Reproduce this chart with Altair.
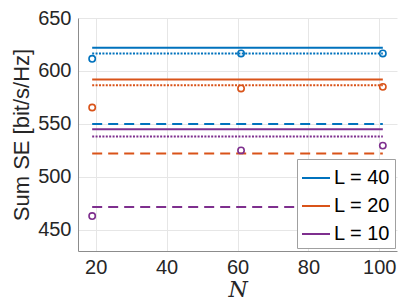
import altair as alt
import pandas as pd

# ---- data ----
L_labels = ["L = 40", "L = 20", "L = 10"]
colors = ["#0072BD", "#D95319", "#7E2F8E"]
N_start = 19
N_end = 101
solid_vals = [622.0, 592.0, 545.0]
dotted_vals = [616.5, 586.5, 538.0]
dashed_vals = [550.0, 522.0, 471.5]
N_points = [19, 61, 101]
circle_vals = {
    "L = 40": [611.5, 616.5, 616.5],
    "L = 20": [565.5, 583.5, 585.0],
    "L = 10": [463.0, 525.0, 529.5],
}
x_ticks = [20, 40, 60, 80, 100]
y_ticks = [450, 500, 550, 600, 650]

lines_df = pd.DataFrame({
    "L": L_labels,
    "x0": [N_start] * 3,
    "x1": [N_end] * 3,
    "solid": solid_vals,
    "dotted": dotted_vals,
    "dashed": dashed_vals,
})
pts_df = pd.DataFrame(
    [{"L": L, "N": n, "SE": v} for L in L_labels for n, v in zip(N_points, circle_vals[L])]
)

font = "Liberation Sans"
txt = "#262626"

xscale = alt.Scale(domain=[15, 105], nice=False, zero=False)
yscale = alt.Scale(domain=[430, 650], nice=False, zero=False)
cscale = alt.Scale(domain=L_labels, range=colors)

xaxis = alt.Axis(values=x_ticks, title="N", titleFont="DejaVu Serif", titleFontStyle="italic",
                 titleFontWeight="normal", titleFontSize=22, titleColor=txt, titlePadding=2,
                 labelFont=font, labelFontSize=20, labelColor=txt, labelPadding=6,
                 ticks=False, grid=True, gridColor="#e6e6e6", domainColor="#8c8c8c")
yaxis = alt.Axis(values=y_ticks, title="Sum SE [bit/s/Hz]", titleFont=font, titleFontWeight="normal",
                 titleFontSize=22, titleColor=txt, titlePadding=4,
                 labelFont=font, labelFontSize=20, labelColor=txt, labelPadding=7,
                 ticks=False, grid=True, gridColor="#e6e6e6", domainColor="#8c8c8c")

base = alt.Chart(lines_df)

solid = base.mark_rule(strokeWidth=2).encode(
    x=alt.X("x0:Q", scale=xscale, axis=xaxis),
    x2="x1:Q",
    y=alt.Y("solid:Q", scale=yscale, axis=yaxis),
    color=alt.Color("L:N", scale=cscale, sort=L_labels,
                    legend=alt.Legend(title=None, orient="none", legendX=219, legendY=141,
                                      symbolType="stroke", symbolSize=784, symbolStrokeWidth=2,
                                      labelFont=font, labelFontSize=20, labelColor="black",
                                      rowPadding=3, padding=4, strokeColor="#a0a0a0",
                                      fillColor="white", labelOffset=3)),
)

dotted = base.mark_rule(strokeWidth=2, strokeDash=[2, 1.4]).encode(
    x="x0:Q", x2="x1:Q", y="dotted:Q",
    color=alt.Color("L:N", scale=cscale, legend=None),
)

dashed = base.mark_rule(strokeWidth=2, strokeDash=[10, 6]).encode(
    x="x0:Q", x2="x1:Q", y="dashed:Q",
    color=alt.Color("L:N", scale=cscale, legend=None),
)

points = alt.Chart(pts_df).mark_point(shape="circle", filled=False, size=40, strokeWidth=1.6, opacity=1).encode(
    x="N:Q", y="SE:Q",
    color=alt.Color("L:N", scale=cscale, legend=None),
)

chart = alt.layer(solid, dotted, dashed, points).properties(
    width=391, height=292,
    autosize=alt.AutoSizeParams(type="fit", contains="padding"),
    padding={"left": 2, "top": 0, "right": 2, "bottom": 0},
    background="white",
).configure_view(stroke=None)

chart.save("out.html", embed_options={"renderer": "svg", "actions": False})
